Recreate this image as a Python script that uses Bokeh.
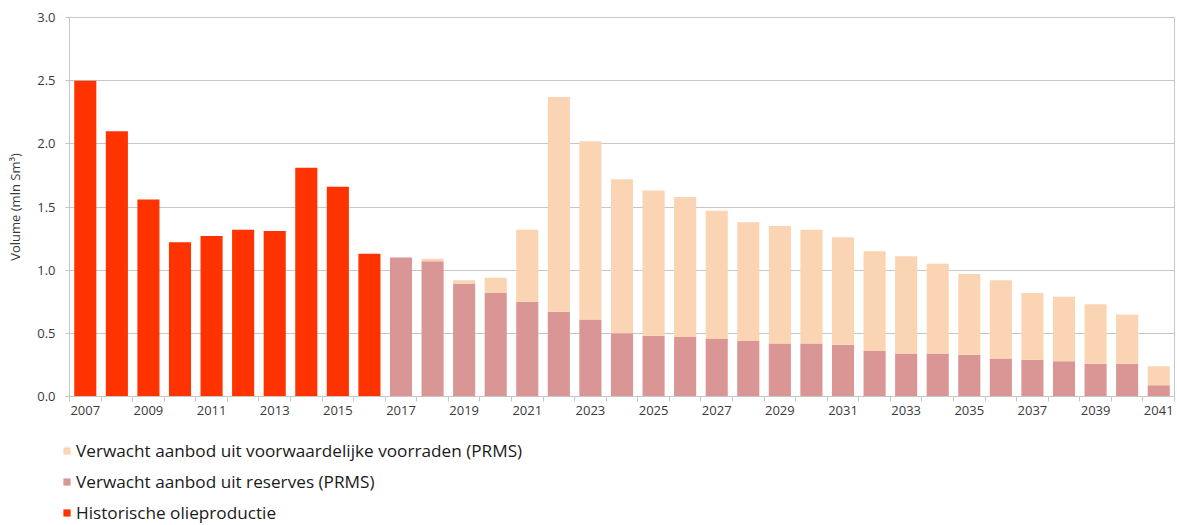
from bokeh.plotting import figure
from bokeh.layouts import column
from bokeh.models import (ColumnDataSource, FixedTicker, Legend, LegendItem,
                          NumeralTickFormatter, Range1d)
from bokeh.embed import file_html
from bokeh.resources import INLINE

# Historical oil production (mln Sm3)
hist_years = [2007, 2008, 2009, 2010, 2011, 2012, 2013, 2014, 2015, 2016]
hist_values = [2.50, 2.10, 1.56, 1.22, 1.27, 1.32, 1.31, 1.81, 1.66, 1.13]

# Expected supply 2017-2041 (mln Sm3)
fc_years = list(range(2017, 2042))
reserves = [1.10, 1.07, 0.89, 0.82, 0.75, 0.67, 0.61, 0.50, 0.48, 0.47,
            0.46, 0.44, 0.42, 0.42, 0.41, 0.36, 0.34, 0.34, 0.33, 0.30,
            0.29, 0.28, 0.26, 0.26, 0.09]
contingent = [0.00, 0.02, 0.03, 0.12, 0.57, 1.70, 1.41, 1.22, 1.15, 1.11,
              1.01, 0.94, 0.93, 0.90, 0.85, 0.79, 0.77, 0.71, 0.64, 0.62,
              0.53, 0.51, 0.47, 0.39, 0.15]

series_labels = ["Verwacht aanbod uit voorwaardelijke voorraden (PRMS)",
                 "Verwacht aanbod uit reserves (PRMS)",
                 "Historische olieproductie"]

label_years = list(range(2007, 2042, 2))
y_ticks = [0.0, 0.5, 1.0, 1.5, 2.0, 2.5, 3.0]

C_HIST = "#FF3300"
C_RES = "#D99694"
C_CONT = "#FBD4B4"
GRID = "#C6C6C6"
TEXT = "#3A3A3A"
FONT = "Open Sans"

hist_src = ColumnDataSource(dict(year=hist_years, value=hist_values))
fc_src = ColumnDataSource(dict(year=fc_years, reserves=reserves,
                               contingent=contingent))


def add_bars(fig):
    """Draw the three bar series on a figure; returns (hist, res, cont)."""
    r_hist = fig.vbar(x="year", top="value", width=0.7, source=hist_src,
                      fill_color=C_HIST, line_color=None)
    r_res, r_cont = fig.vbar_stack(["reserves", "contingent"], x="year",
                                   width=0.7, source=fc_src,
                                   fill_color=[C_RES, C_CONT], line_color=None)
    return r_hist, r_res, r_cont


p = figure(width=1177, height=425, output_backend="svg", toolbar_location=None,
           x_range=Range1d(2006.5, 2041.5), y_range=Range1d(0, 3.0),
           min_border_left=69, min_border_right=3, min_border_top=17,
           min_border_bottom=29)
add_bars(p)

# Frame and grid
p.outline_line_color = GRID
p.xgrid.grid_line_color = None
p.ygrid.grid_line_color = GRID
p.ygrid.grid_line_width = 1.2
p.background_fill_color = "white"
p.border_fill_color = "white"

# X axis: labels on every other year, small ticks between the bars
xa = p.xaxis[0]
xa.ticker = FixedTicker(ticks=label_years,
                        minor_ticks=[y + 0.5 for y in range(2006, 2042)])
xa.major_tick_out = 0
xa.major_tick_in = 0
xa.minor_tick_out = 5
xa.minor_tick_in = 0
xa.minor_tick_line_color = GRID
xa.axis_line_color = GRID
xa.major_label_text_font = FONT
xa.major_label_text_font_size = "13px"
xa.major_label_text_color = TEXT
xa.major_label_standoff = 4

# Y axis
ya = p.yaxis[0]
ya.ticker = FixedTicker(ticks=y_ticks)
ya.formatter = NumeralTickFormatter(format="0.0")
ya.minor_tick_out = 0
ya.minor_tick_in = 0
ya.major_tick_out = 4
ya.major_tick_in = 0
ya.major_tick_line_color = GRID
ya.axis_line_color = GRID
ya.major_label_text_font = FONT
ya.major_label_text_font_size = "13px"
ya.major_label_text_color = TEXT
ya.major_label_standoff = 10
ya.axis_label = "Volume (mln Sm³)"
ya.axis_label_text_font = FONT
ya.axis_label_text_font_size = "13px"
ya.axis_label_text_font_style = "normal"
ya.axis_label_text_color = TEXT
ya.axis_label_standoff = 10

# Legend panel under the chart; its y range sits above the bars, so the
# series renderers only supply the legend swatches here
leg = figure(width=1177, height=100, output_backend="svg",
             toolbar_location=None, x_range=Range1d(2006.5, 2041.5),
             y_range=Range1d(10, 11), x_axis_type=None, y_axis_type=None,
             min_border=0, min_border_left=0, min_border_right=0)
leg.frame_align = False
leg.outline_line_color = None
leg.grid.grid_line_color = None
l_hist, l_res, l_cont = add_bars(leg)

legend = Legend(items=[LegendItem(label=lbl, renderers=[r])
                       for lbl, r in zip(series_labels,
                                         (l_cont, l_res, l_hist))],
                orientation="vertical", location=(62, 1))
legend.border_line_color = None
legend.background_fill_alpha = 0
legend.label_text_font = FONT
legend.label_text_font_size = "17.2px"
legend.label_text_color = "#1A1A1A"
legend.glyph_width = 9
legend.glyph_height = 9
legend.label_height = 20
legend.spacing = 8
legend.padding = 0
legend.margin = 0
legend.label_standoff = 5
leg.add_layout(legend, "center")

open("out.html", "w").write(file_html(column(p, leg), INLINE))
